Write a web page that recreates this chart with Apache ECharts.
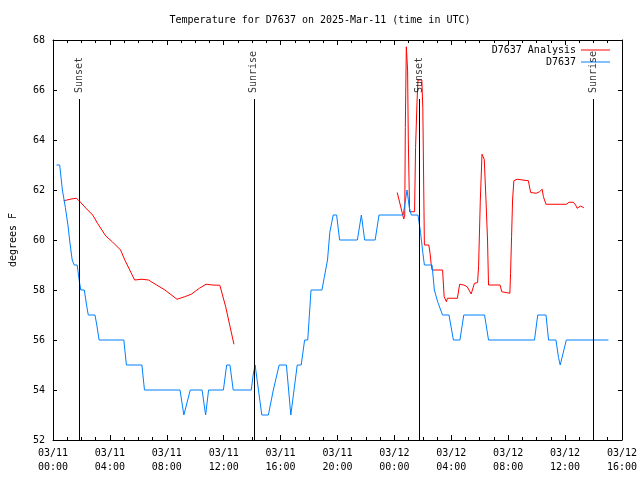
<!DOCTYPE html>
<html><head><meta charset="utf-8">
<script src="https://cdn.jsdelivr.net/npm/echarts@6/dist/echarts.min.js"></script>
<style>html,body{margin:0;padding:0;background:#fff}#c{width:640px;height:480px}</style>
</head><body><div id="c"></div>
<script>
const titleText = 'Temperature for D7637 on 2025-Mar-11 (time in UTC)';
const tickLabels = ['03/11\n00:00','03/11\n04:00','03/11\n08:00','03/11\n12:00','03/11\n16:00','03/11\n20:00','03/12\n00:00','03/12\n04:00','03/12\n08:00','03/12\n12:00','03/12\n16:00'];
// hours since 2025-03-11 00:00 UTC
const obsHours = [0.24,0.47,0.66,0.87,1.05,1.21,1.35,1.49,1.70,1.84,1.95,2.20,2.36,2.48,2.95,3.08,3.24,4.98,5.16,6.25,6.43,8.93,9.20,9.65,10.48,10.73,10.94,11.98,12.21,12.44,12.67,13.94,14.07,14.21,14.68,15.14,15.49,15.90,16.41,16.72,17.17,17.45,17.69,17.91,18.14,18.91,19.07,19.30,19.46,19.70,19.94,20.15,21.40,21.68,21.91,22.65,22.92,24.62,24.89,25.05,25.19,25.66,25.84,26.00,26.11,26.65,26.81,27.06,27.39,27.84,28.15,28.61,28.88,30.34,30.62,33.85,34.08,34.66,34.84,35.36,35.54,35.66,35.79,36.09,39.05];
const obsTemps = [63,63,62,61.3,60.6,59.8,59.2,59,59,58.4,58,58,57.4,57,57,56.6,56,56,55,55,54,54,53,54,54,53,54,54,55,55,54,54,54.6,55,53,53,54,55,55,53,55,55,56,56,58,58,58.5,59.2,60.3,61,61,60,60,61,60,60,61,61,62,61.3,61,61,60.3,59.5,59,59,58,57.5,57,57,56,56,57,57,56,56,57,57,56,56,55.3,55,55,56,56];
const anaHours = [0.75,0.98,1.28,1.63,1.79,2.32,2.79,3.13,3.71,4.17,4.75,5.05,5.74,6.25,6.71,7.29,7.87,8.72,9.25,9.72,10.29,10.76,11.21,11.73,12.14,12.72,18.0,24.20,24.66,24.73,24.77,24.84,24.93,24.98,25.07,25.42,25.49,25.59,25.66,25.93,26.00,26.11,26.42,26.51,26.58,26.65,27.39,27.50,27.66,27.73,28.43,28.59,28.88,29.12,29.40,29.63,29.85,29.92,30.04,30.16,30.32,30.44,30.55,30.62,31.43,31.55,32.12,32.17,32.24,32.31,32.40,32.63,32.77,33.42,33.58,33.97,34.20,34.39,34.48,34.66,36.09,36.28,36.58,36.74,36.85,37.09,37.32];
const anaTemps = [61.57,61.6,61.64,61.67,61.6,61.27,61.0,60.67,60.16,59.93,59.6,59.2,58.4,58.43,58.4,58.2,58.0,57.63,57.73,57.83,58.07,58.23,58.2,58.19,57.33,55.83,null,61.9,60.84,61.0,64.5,67.73,66.8,64.0,61.13,61.13,63.7,65.5,66.4,66.4,65.3,59.8,59.8,59.47,59.07,58.8,58.8,57.73,57.53,57.67,57.67,58.23,58.2,58.13,57.84,58.27,58.3,58.93,61.53,63.43,63.23,61.6,60.0,58.2,58.2,57.93,57.87,58.67,60.13,61.6,62.37,62.43,62.37,62.37,61.9,61.87,61.93,62.03,61.73,61.43,61.43,61.51,61.51,61.4,61.27,61.36,61.29];
const sunHours = [1.86,14.12,25.77,37.96];
const sunNames = ['Sunset','Sunrise','Sunset','Sunrise'];
const sunLineTop = 65.64;
const sunLabelY = 65.88;

const FONT = 'DejaVu Sans Mono';
const pair = (xs, ys) => xs.map((x, i) => [x, ys[i]]);

const chart = echarts.init(document.getElementById('c'), null, {renderer: 'canvas'});
const txt = {fontFamily: FONT, fontSize: 10, color: '#000'};
const axisCommon = {
  axisLine: {show: true, onZero: false, lineStyle: {color: '#000', width: 1}},
  splitLine: {show: false}
};
chart.setOption({
  animation: false,
  backgroundColor: '#fff',
  title: {text: titleText, left: 'center', top: 10, textStyle: Object.assign({}, txt, {fontWeight: 'normal'})},
  grid: {left: 47, right: 16, top: 40, bottom: 40},
  legend: [
    {data: ['D7637 Analysis'], right: 30, top: 45, orient: 'vertical', align: 'right', padding: 0, itemWidth: 29, itemHeight: 1, itemGap: 0, icon: 'rect', textStyle: txt},
    {data: ['D7637'], right: 30, top: 57, orient: 'vertical', align: 'right', padding: 0, itemWidth: 29, itemHeight: 1, itemGap: 0, icon: 'rect', textStyle: txt}
  ],
  xAxis: [
    Object.assign({type: 'value', min: 0, max: 40, interval: 4, position: 'bottom',
      axisTick: {inside: true, length: 5, lineStyle: {color: '#000'}},
      minorTick: {show: true, splitNumber: 4, length: 3, lineStyle: {color: '#000'}},
      axisLabel: Object.assign({}, txt, {margin: 6, lineHeight: 14, formatter: v => tickLabels[Math.round(v / 4)]})
    }, axisCommon),
    Object.assign({type: 'value', min: 0, max: 40, interval: 4, position: 'top',
      axisTick: {inside: true, length: 5, lineStyle: {color: '#000'}},
      minorTick: {show: true, splitNumber: 4, length: 3, lineStyle: {color: '#000'}},
      axisLabel: {show: false}
    }, axisCommon)
  ],
  yAxis: [
    Object.assign({type: 'value', min: 52, max: 68, interval: 2, position: 'left',
      name: 'degrees F', nameLocation: 'middle', nameGap: 35, nameRotate: 90, nameTextStyle: txt,
      axisTick: {inside: true, length: 4, lineStyle: {color: '#000'}},
      axisLabel: Object.assign({}, txt, {margin: 8})
    }, axisCommon),
    Object.assign({type: 'value', min: 52, max: 68, interval: 2, position: 'right',
      axisTick: {inside: true, length: 4, lineStyle: {color: '#000'}},
      axisLabel: {show: false}
    }, axisCommon)
  ],
  series: [
    {name: 'D7637 Analysis', type: 'line', data: pair(anaHours, anaTemps), showSymbol: false, symbol: 'none',
      connectNulls: false, lineStyle: {color: '#ff0000', width: 1}, itemStyle: {color: '#ff0000'}, z: 3},
    {name: 'D7637', type: 'line', data: pair(obsHours, obsTemps), showSymbol: false, symbol: 'none',
      lineStyle: {color: '#0080ff', width: 1}, itemStyle: {color: '#0080ff'}, z: 4},
    {name: 'sun', type: 'scatter', symbolSize: 0, silent: true, z: 5,
      data: sunHours.map((h, i) => ({name: sunNames[i], value: [h, sunLabelY]})),
      label: {show: true, position: 'inside', rotate: 90, align: 'left', verticalAlign: 'middle',
        formatter: p => p.name, fontFamily: FONT, fontSize: 10, color: '#000'},
      markLine: {silent: true, symbol: 'none', label: {show: false}, animation: false,
        lineStyle: {color: '#000', width: 1, type: 'solid'},
        data: sunHours.map(h => [{coord: [h, 52]}, {coord: [h, sunLineTop]}])}
    }
  ]
});
</script></body></html>
